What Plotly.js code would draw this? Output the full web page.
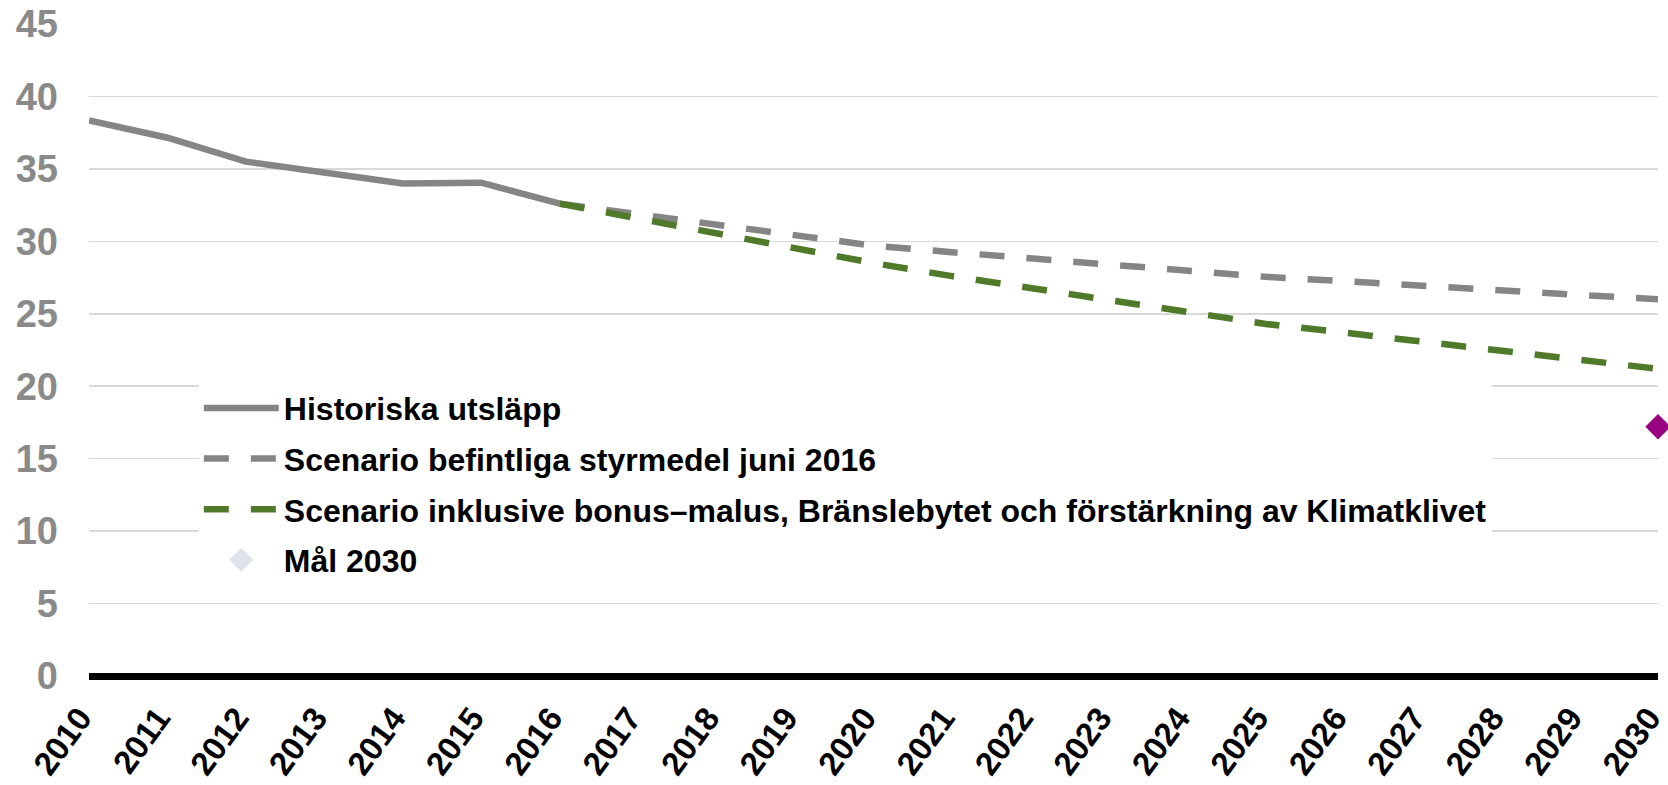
<!DOCTYPE html>
<html>
<head>
<meta charset="utf-8">
<script src="https://cdn.plot.ly/plotly-3.0.1.min.js"></script>
<style>
  html, body { margin: 0; padding: 0; background: #ffffff; }
  #chart { width: 1668px; height: 785px; }
</style>
</head>
<body>
<div id="chart"></div>
<script>
// Years (x categories)
const years = [2010, 2011, 2012, 2013, 2014, 2015, 2016, 2017, 2018, 2019, 2020,
               2021, 2022, 2023, 2024, 2025, 2026, 2027, 2028, 2029, 2030];
const yearLabels = years.map(String);

// Historical emissions 2010–2016
const histYears = [2010, 2011, 2012, 2013, 2014, 2015, 2016];
const histValues = [38.35, 37.15, 35.5, 34.75, 34.0, 34.05, 32.6];

// Scenario years 2016–2030
const scenYears = [2016, 2017, 2018, 2019, 2020, 2021, 2022, 2023, 2024, 2025, 2026, 2027, 2028, 2029, 2030];
const scenBefintliga = [32.6, 31.85, 31.15, 30.4, 29.7, 29.25, 28.8, 28.4, 27.95, 27.55, 27.25, 26.9, 26.6, 26.3, 26.0];
const scenInklusive  = [32.6, 31.55, 30.5, 29.5, 28.5, 27.6, 26.8, 26.0, 25.15, 24.3, 23.7, 23.05, 22.45, 21.85, 21.2];

// Target 2030
const goalYear = [2030];
const goalValue = [17.2];

// Series names
const names = [
  'Historiska utsläpp',
  'Scenario befintliga styrmedel juni 2016',
  'Scenario inklusive bonus–malus, Bränslebytet och förstärkning av Klimatklivet',
  'Mål 2030'
];

// Y ticks
const yTicks = [0, 5, 10, 15, 20, 25, 30, 35, 40, 45];

const FONT = 'Liberation Sans, Arial, Helvetica, sans-serif';
const GRAY = '#858585';
const GREEN = '#4E7A29';
const LEGEND_DIAMOND = '#DDE4EC';

const traces = [
  {
    x: histYears, y: histValues, name: names[0], type: 'scatter', mode: 'lines',
    line: { color: GRAY, width: 6.5 }, legendgroup: 'a'
  },
  {
    x: scenYears, y: scenBefintliga, name: names[1], type: 'scatter', mode: 'lines',
    line: { color: GRAY, width: 6.5, dash: '25px,22px' }, legendgroup: 'b'
  },
  {
    x: scenYears, y: scenInklusive, name: names[2], type: 'scatter', mode: 'lines',
    line: { color: GREEN, width: 6.5, dash: '25px,22px' }, legendgroup: 'c'
  },
  {
    x: goalYear, y: goalValue, name: names[3], type: 'scatter', mode: 'markers',
    marker: { symbol: 'diamond', size: 13, color: LEGEND_DIAMOND,
              line: { color: LEGEND_DIAMOND, width: 5 } },
    legendgroup: 'd', cliponaxis: false
  },
  {
    x: goalYear, y: goalValue, name: names[3], type: 'scatter', mode: 'markers',
    marker: { symbol: 'diamond', size: 19.5, color: '#990080' },
    showlegend: false, legendgroup: 'd', cliponaxis: false
  }
];

const layout = {
  width: 1668, height: 785,
  margin: { l: 89, r: 10, t: 24, b: 109 },
  paper_bgcolor: '#ffffff', plot_bgcolor: '#ffffff',
  font: { family: FONT, weight: 'bold', color: '#000000' },
  showlegend: true,
  legend: {
    x: 0.07, xanchor: 'left', y: 0.453, yanchor: 'top',
    bgcolor: '#ffffff', borderwidth: 0,
    font: { family: FONT, size: 32, weight: 'bold', color: '#000000' },
    itemwidth: 75, traceorder: 'grouped', tracegroupgap: 6
  },
  shapes: [
    { // legend background area (covers gridlines behind the legend)
      type: 'rect', xref: 'paper', yref: 'paper',
      x0: 0.0198, x1: 0.940, y0: 0.132, y1: 0.505,
      fillcolor: '#ffffff', line: { width: 0 }, layer: 'between'
    }
  ],
  xaxis: {
    range: [2010, 2030],
    tickmode: 'array', tickvals: years, ticktext: yearLabels,
    tickangle: -54,
    tickfont: { family: FONT, size: 33, weight: 'bold', color: '#000000' },
    showgrid: false, zeroline: false, showline: false, ticks: '',
    ticklabelstandoff: 15, ticklabelshift: -9, ticklabeloverflow: 'allow'
  },
  yaxis: {
    range: [0, 45],
    tickmode: 'array', tickvals: yTicks, ticktext: yTicks.map(String),
    tickfont: { family: FONT, size: 38, weight: 'bold', color: '#8A8A8A' },
    showgrid: true, gridcolor: '#D9D9D9', gridwidth: 1.5,
    zeroline: true, zerolinecolor: '#000000', zerolinewidth: 7,
    showline: false, ticks: '',
    ticklabelstandoff: 30
  }
};

Plotly.newPlot('chart', traces, layout, { displayModeBar: false, staticPlot: true });
</script>
</body>
</html>
